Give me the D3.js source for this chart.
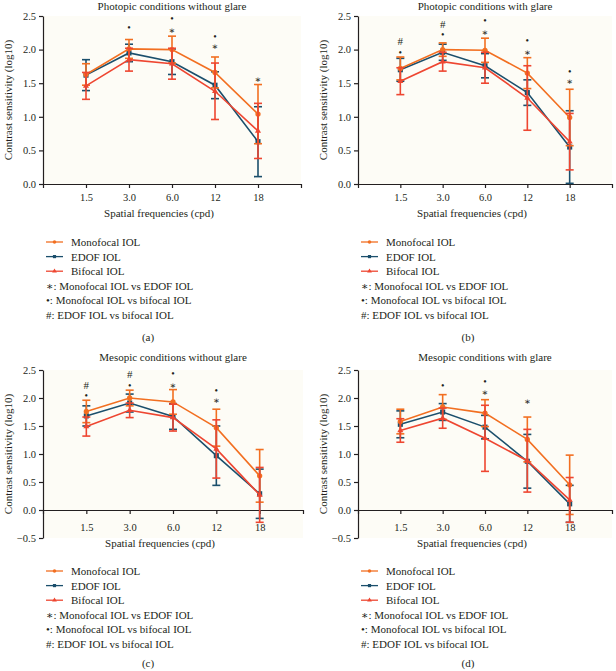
<!DOCTYPE html>
<html>
<head>
<meta charset="utf-8">
<script src="https://cdn.jsdelivr.net/npm/d3@7"></script>
<style>
  body { margin: 0; background: #fff; }
  svg text { font-family: "Liberation Serif", "DejaVu Serif", serif; fill: #231f20; }
</style>
</head>
<body>
<div id="chart"></div>
<script>
// Contrast sensitivity by spatial frequency, four lighting conditions
const freqLabels = ["1.5", "3.0", "6.0", "12", "18"];
const seriesNames = ["Monofocal IOL", "EDOF IOL", "Bifocal IOL"];
const panelTitles = [
  "Photopic conditions without glare",
  "Photopic conditions with glare",
  "Mesopic conditions without glare",
  "Mesopic conditions with glare"
];
const panelTags = ["(a)", "(b)", "(c)", "(d)"];
const yTicksPhotopic = [0, 0.5, 1.0, 1.5, 2.0, 2.5];
const yTicksMesopic = [-0.5, 0, 0.5, 1.0, 1.5, 2.0, 2.5];
const legendNotes = ["∗: Monofocal IOL vs EDOF IOL", "•: Monofocal IOL vs bifocal IOL", "#: EDOF IOL vs bifocal IOL"];

// (a) photopic without glare
const monoMeanA = [1.63, 2.01, 2.00, 1.66, 1.04];
const monoSdA   = [0.16, 0.14, 0.20, 0.23, 0.44];
const edofMeanA = [1.62, 1.95, 1.82, 1.47, 0.63];
const edofSdA   = [0.23, 0.13, 0.19, 0.20, 0.52];
const bifoMeanA = [1.46, 1.85, 1.79, 1.38, 0.79];
const bifoSdA   = [0.20, 0.17, 0.23, 0.42, 0.41];
const sigA = [[1, "•", 2.33], [2, "•", 2.46], [2, "∗", 2.29], [3, "•", 2.19], [3, "∗", 2.04], [4, "∗", 1.55]];

// (b) photopic with glare
const monoMeanB = [1.72, 2.00, 1.99, 1.65, 0.99];
const monoSdB   = [0.17, 0.10, 0.18, 0.23, 0.42];
const edofMeanB = [1.70, 1.96, 1.76, 1.36, 0.55];
const edofSdB   = [0.17, 0.12, 0.18, 0.19, 0.54];
const bifoMeanB = [1.53, 1.82, 1.73, 1.28, 0.63];
const bifoSdB   = [0.20, 0.14, 0.23, 0.48, 0.42];
const sigB = [[0, "#", 2.13], [0, "•", 1.96], [1, "#", 2.38], [1, "•", 2.22], [2, "•", 2.43], [2, "∗", 2.26],
  [3, "•", 2.13], [3, "∗", 1.95], [4, "•", 1.68], [4, "∗", 1.53]];

// (c) mesopic without glare
const monoMeanC = [1.76, 2.00, 1.93, 1.47, 0.61];
const monoSdC   = [0.20, 0.14, 0.22, 0.33, 0.47];
const edofMeanC = [1.68, 1.91, 1.67, 0.97, 0.29];
const edofSdC   = [0.18, 0.16, 0.23, 0.53, 0.44];
const bifoMeanC = [1.49, 1.78, 1.65, 1.09, 0.27];
const bifoSdC   = [0.17, 0.13, 0.24, 0.52, 0.49];
const sigC = [[0, "#", 2.24], [0, "•", 2.04], [1, "#", 2.42], [1, "•", 2.23], [2, "•", 2.43], [2, "∗", 2.23],
  [3, "•", 2.13], [3, "∗", 1.95]];

// (d) mesopic with glare
const monoMeanD = [1.58, 1.84, 1.73, 1.26, 0.45];
const monoSdD   = [0.22, 0.22, 0.24, 0.40, 0.53];
const edofMeanD = [1.53, 1.75, 1.48, 0.87, 0.11];
const edofSdD   = [0.24, 0.15, 0.21, 0.48, 0.33];
const bifoMeanD = [1.42, 1.64, 1.28, 0.88, 0.18];
const bifoSdD   = [0.21, 0.18, 0.59, 0.56, 0.40];
const sigD = [[1, "•", 2.23], [2, "•", 2.30], [2, "∗", 2.10], [3, "∗", 1.93]];

const colors = ["#f26f21", "#1b4f6c", "#ee4631"];
const symbols = [d3.symbolCircle, d3.symbolSquare, d3.symbolTriangle];
const symSizes = [22, 26, 16];

const panels = [
  { means: [monoMeanA, edofMeanA, bifoMeanA], sds: [monoSdA, edofSdA, bifoSdA], sig: sigA,
    left: 43, right: 301, top: 16, bottom: 184, ticks: yTicksPhotopic, titleY: 10, xLabY: 217, tickPad: 6, legendY: 242, tagY: 341 },
  { means: [monoMeanB, edofMeanB, bifoMeanB], sds: [monoSdB, edofSdB, bifoSdB], sig: sigB,
    left: 358, right: 612, top: 16, bottom: 184, ticks: yTicksPhotopic, titleY: 10, xLabY: 217, tickPad: 6, legendY: 242, tagY: 341 },
  { means: [monoMeanC, edofMeanC, bifoMeanC], sds: [monoSdC, edofSdC, bifoSdC], sig: sigC,
    left: 43, right: 303, top: 370, bottom: 538, ticks: yTicksMesopic, titleY: 361, xLabY: 547, tickPad: 10, legendY: 571, tagY: 667 },
  { means: [monoMeanD, edofMeanD, bifoMeanD], sds: [monoSdD, edofSdD, bifoSdD], sig: sigD,
    left: 358, right: 612, top: 370, bottom: 538, ticks: yTicksMesopic, titleY: 361, xLabY: 547, tickPad: 10, legendY: 571, tagY: 667 }
];

const svg = d3.select("#chart").append("svg").attr("width", 616).attr("height", 671);

panels.forEach((p, pi) => {
  const g = svg.append("g");
  const x = d3.scaleLinear().domain([0, 6]).range([p.left, p.right]);
  const y = d3.scaleLinear().domain(d3.extent(p.ticks)).range([p.bottom, p.top]);

  g.append("rect")
    .attr("x", p.left).attr("y", p.top)
    .attr("width", p.right - p.left).attr("height", p.bottom - p.top)
    .attr("fill", "#fdfcf6");

  // axes
  const yAxis = g.append("g").attr("transform", `translate(${p.left},0)`)
    .call(d3.axisLeft(y).tickValues(p.ticks).tickFormat(d3.format(".1f")).tickSize(4).tickSizeOuter(0));
  const xAxis = g.append("g").attr("transform", `translate(0,${y(0)})`)
    .call(d3.axisBottom(x).tickValues([1, 2, 3, 4, 5]).tickFormat((d) => freqLabels[d - 1])
      .tickSize(4).tickSizeOuter(4).tickPadding(p.tickPad));
  [yAxis, xAxis].forEach((a) => {
    a.selectAll("path, line").attr("stroke", "#231f20").attr("stroke-width", 1.2);
    a.selectAll("text").attr("font-size", 10.5).attr("fill", "#231f20");
  });

  g.append("text")
    .attr("transform", `translate(${p.left - 35},${(p.top + p.bottom) / 2}) rotate(-90)`)
    .attr("text-anchor", "middle").attr("dominant-baseline", "central")
    .attr("font-size", 11).text("Contrast sensitivity (log10)");

  g.append("text").attr("x", (p.left + p.right) / 2).attr("y", p.titleY)
    .attr("text-anchor", "middle").attr("font-size", 11).text(panelTitles[pi]);

  g.append("text").attr("x", (p.left + p.right) / 2 - 13).attr("y", p.xLabY)
    .attr("text-anchor", "middle").attr("font-size", 11).text("Spatial frequencies (cpd)");

  // series: EDOF underneath, then monofocal, bifocal on top
  [1, 0, 2].forEach((s) => {
    const pts = p.means[s].map((m, i) => ({ i: i + 1, m: m, sd: p.sds[s][i] }));
    const sg = g.append("g");
    sg.append("path").datum(pts)
      .attr("fill", "none").attr("stroke", colors[s]).attr("stroke-width", 1.6)
      .attr("d", d3.line().x((d) => x(d.i)).y((d) => y(d.m)));
    const eb = sg.selectAll(".err").data(pts).enter().append("g");
    eb.append("line")
      .attr("x1", (d) => x(d.i)).attr("x2", (d) => x(d.i))
      .attr("y1", (d) => y(d.m - d.sd)).attr("y2", (d) => y(d.m + d.sd))
      .attr("stroke", colors[s]).attr("stroke-width", 1.6);
    [-1, 1].forEach((k) => {
      eb.append("line")
        .attr("x1", (d) => x(d.i) - 4).attr("x2", (d) => x(d.i) + 4)
        .attr("y1", (d) => y(d.m + k * d.sd)).attr("y2", (d) => y(d.m + k * d.sd))
        .attr("stroke", colors[s]).attr("stroke-width", 1.6);
    });
    sg.selectAll(".pt").data(pts).enter().append("path")
      .attr("transform", (d) => `translate(${x(d.i)},${y(d.m)})`)
      .attr("d", d3.symbol().type(symbols[s]).size(symSizes[s]))
      .attr("fill", colors[s]);
  });

  // significance marks
  g.selectAll(".sig").data(p.sig).enter().append("text")
    .attr("x", (d) => x(d[0] + 1)).attr("y", (d) => y(d[2]))
    .attr("text-anchor", "middle").attr("dominant-baseline", "central")
    .attr("font-size", (d) => (d[1] === "#" ? 11 : 10))
    .attr("fill", "#111")
    .text((d) => d[1]);

  // legend
  const lg = g.append("g").attr("transform", `translate(${p.left + 3},${p.legendY})`);
  seriesNames.forEach((name, s) => {
    const row = lg.append("g").attr("transform", `translate(0,${s * 14.6})`);
    row.append("line").attr("x1", 0).attr("x2", 17).attr("stroke", colors[s]).attr("stroke-width", 1.3);
    row.append("path").attr("transform", "translate(8.5,0)")
      .attr("d", d3.symbol().type(symbols[s]).size(10)).attr("fill", colors[s]);
    row.append("text").attr("x", 25).attr("dominant-baseline", "central").attr("font-size", 11).text(name);
  });
  legendNotes.forEach((note, k) => {
    lg.append("text").attr("x", 0).attr("y", (k + 3) * 14.6)
      .attr("dominant-baseline", "central").attr("font-size", 11).text(note);
  });

  g.append("text").attr("x", pi % 2 === 0 ? 148 : 468).attr("y", p.tagY)
    .attr("text-anchor", "middle").attr("font-size", 11).text(panelTags[pi]);
});
</script>
</body>
</html>
